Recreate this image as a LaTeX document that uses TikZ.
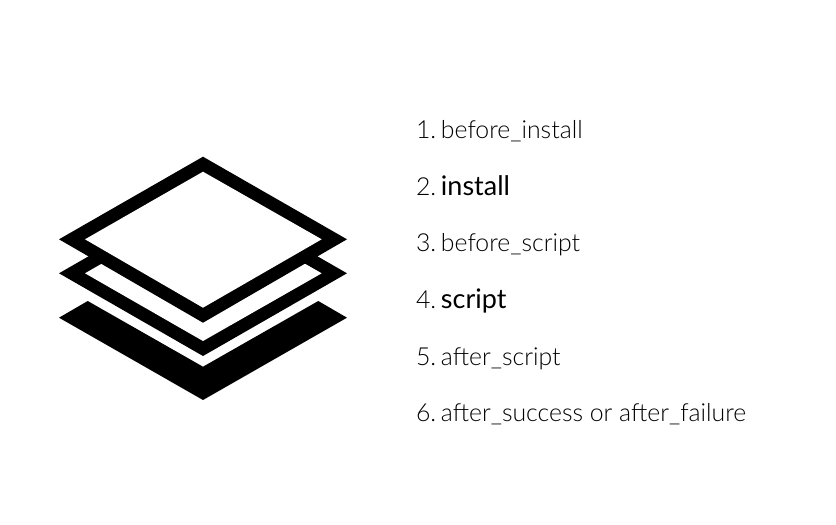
\documentclass[tikz,border=0pt]{standalone}
\usepackage{fontspec}
\setmainfont{Lato Light}[BoldFont={Lato}]
\newcommand{\stepno}[1]{#1.\hspace{-4.2pt} }
\newcommand{\stepkey}[1]{{\fontsize{27}{30}\selectfont\bfseries #1}}
\tikzset{
  lbl/.style={anchor=base west,inner sep=0pt,outer sep=0pt,text=black,font=\fontsize{24.8}{28}\selectfont},
  ink/.style={fill=black,draw=none},
  hole/.style={fill=white,draw=none}
}
\begin{document}
\begin{tikzpicture}[x=1pt,y=-1pt]
\useasboundingbox[fill=white] (0,0) rectangle (836,525);
% bottom sheet
\fill[ink] (59,317.7) -- (87.7,301) -- (203,366.7) -- (318.3,301) -- (347,317.7) -- (203,400) -- cycle;
% middle sheet
\fill[ink] (59,273.3) -- (203,190.5) -- (347,273.3) -- (203,356) -- cycle;
\fill[hole] (85,273.3) -- (203,205.5) -- (321.7,273.3) -- (203,341) -- cycle;
% top sheet
\fill[ink] (59,239.3) -- (203,156.7) -- (347,239.3) -- (203,322.7) -- cycle;
\fill[hole] (85,239.3) -- (203,171.7) -- (321.7,239.3) -- (203,307.7) -- cycle;
\node[lbl] (s1) at (416,138.5) {\stepno{1}before\_install};
\node[lbl] (s2) at (416,195.5) {\stepno{2}\stepkey{install}};
\node[lbl] (s3) at (416,251.5) {\stepno{3}before\_script};
\node[lbl] (s4) at (416,308.5) {\stepno{4}\stepkey{script}};
\node[lbl] (s5) at (416,365) {\stepno{5}after\_script};
\node[lbl] (s6) at (416,421.5) {\stepno{6}after\_success or after\_failure};
\end{tikzpicture}
\end{document}
